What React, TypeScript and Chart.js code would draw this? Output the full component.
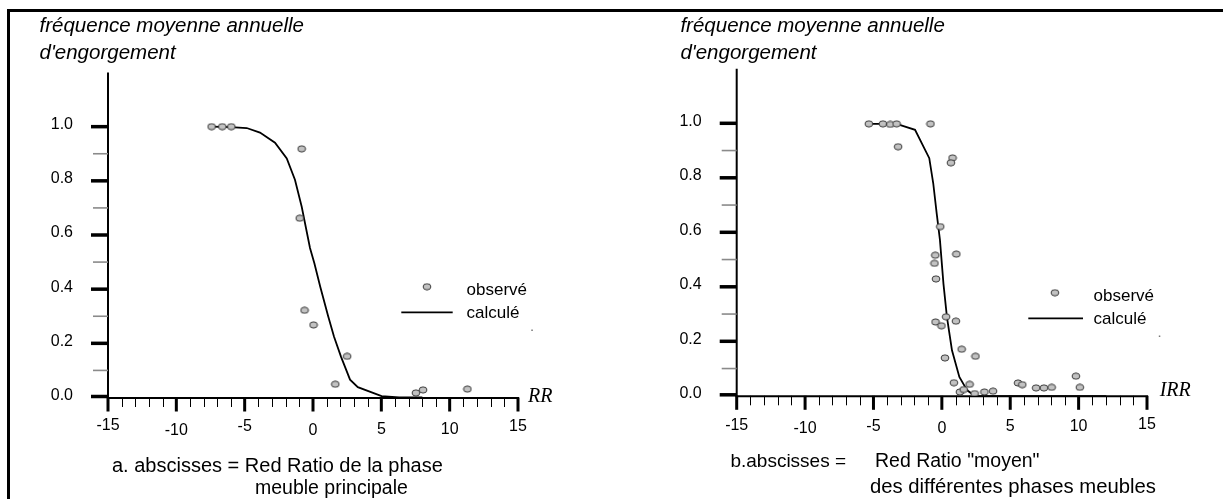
import React, { useEffect, useRef } from 'react';
import { Chart, registerables } from 'chart.js';

Chart.register(...registerables);

// ---------------- data ----------------
const xTickValues = [-15, -10, -5, 0, 5, 10, 15];
const xTickLabels = ['-15', '-10', '-5', '0', '5', '10', '15'];
const xMinorTickValues = [-14, -13, -12, -11, -9, -8, -7, -6, -4, -3, -2, -1, 1, 2, 3, 4, 6, 7, 8, 9, 11, 12, 13, 14];
const yTickValues = [0, 0.2, 0.4, 0.6, 0.8, 1.0];
const yTickLabels = ['0.0', '0.2', '0.4', '0.6', '0.8', '1.0'];
const yMinorTickValues = [0.1, 0.3, 0.5, 0.7, 0.9];

const titleLines = ['fréquence moyenne annuelle', "d'engorgement"];
const legendLabels = ['observé', 'calculé'];

// panel a : RR
const observedA_x = [-7.42, -6.64, -5.98, -0.83, -0.97, -0.62, 0.04, 2.5, 1.63, 7.53, 8.05, 11.3];
const observedA_y = [1.0, 1.0, 1.0, 0.918, 0.662, 0.322, 0.268, 0.152, 0.049, 0.017, 0.028, 0.031];
const calculatedA_x = [-7.42, -6.0, -4.85, -3.88, -2.78, -1.92, -1.32, -0.83, -0.22, 0.1, 0.53, 1.11, 1.54, 2.04, 2.71, 3.28, 5.02, 6.3, 8.0];
const calculatedA_y = [1.0, 0.998, 0.995, 0.978, 0.941, 0.883, 0.804, 0.705, 0.552, 0.496, 0.409, 0.3, 0.224, 0.152, 0.066, 0.038, 0.005, 0.0, 0.0];

// panel b : IRR
const observedB_x = [-5.34, -4.31, -3.77, -3.31, -3.2, -0.83, 0.78, 0.66, -0.12, -0.48, 1.06, -0.54, -0.43, -0.46, 0.31, -0.03, 1.03, 1.45, 0.23, 2.46, 0.88, 2.03, 1.32, 1.6, 2.4, 3.11, 3.74, 5.57, 5.88, 6.89, 7.46, 8.03, 9.8, 10.09];
const observedB_y = [0.998, 0.998, 0.996, 0.998, 0.914, 0.998, 0.873, 0.855, 0.621, 0.516, 0.52, 0.486, 0.429, 0.271, 0.29, 0.257, 0.274, 0.171, 0.139, 0.145, 0.048, 0.042, 0.014, 0.023, 0.008, 0.014, 0.017, 0.047, 0.041, 0.029, 0.029, 0.031, 0.072, 0.031];
const calculatedB_x = [-5.34, -4.31, -3.77, -3.31, -1.96, -0.92, -0.63, -0.38, -0.14, 0.12, 0.37, 0.74, 1.28, 1.85, 2.4, 12.0];
const calculatedB_y = [0.998, 0.998, 0.996, 0.998, 0.976, 0.872, 0.78, 0.67, 0.572, 0.41, 0.29, 0.167, 0.069, 0.02, 0.0, 0.0];

const X_MIN = -15;
const X_MAX = 15;
const Y_MIN = 0;
const Y_MAX = 1.2;

// ---------------- layout / style ----------------
const FONT = '"Liberation Sans", Arial, sans-serif';
const SERIF = '"Liberation Serif", "Times New Roman", serif';

type Caption = { text: string; x: number; y: number; size: number };

type PanelSpec = {
  left: number;
  width: number;
  padding: { left: number; right: number; top: number; bottom: number };
  obsX: number[];
  obsY: number[];
  calcX: number[];
  calcY: number[];
  axisName: string;
  axisNamePos: [number, number];
  titleX: number;
  titleYs: number[];
  captions: Caption[];
  xLabelY: number;
  xLabelDy: number[];
  legend: {
    markerX: number; markerY: number; textX: number; obsTextY: number;
    lineX1: number; lineX2: number; lineY: number; calcTextY: number;
    dotX: number; dotY: number;
  };
};

const panelA: PanelSpec = {
  left: 0,
  width: 611,
  padding: { left: 108, right: 93, top: 72.5, bottom: 101.5 },
  obsX: observedA_x,
  obsY: observedA_y,
  calcX: calculatedA_x,
  calcY: calculatedA_y,
  axisName: 'RR',
  axisNamePos: [528, 397],
  titleX: 39.5,
  titleYs: [26.7, 53.3],
  captions: [
    { text: 'a. abscisses = Red Ratio de la phase', x: 112, y: 466.7, size: 20 },
    { text: 'meuble principale', x: 255, y: 488.3, size: 19.5 },
  ],
  xLabelY: 428,
  xLabelDy: [-2, 3, -1, 3, 2, 2, -1],
  legend: {
    markerX: 427, markerY: 286.7, textX: 466.6, obsTextY: 290,
    lineX1: 401.3, lineX2: 452.7, lineY: 312.3, calcTextY: 313.3,
    dotX: 531.8, dotY: 330,
  },
};

const panelB: PanelSpec = {
  left: 611,
  width: 612,
  padding: { left: 125.7, right: 76, top: 68.8, bottom: 103.2 },
  obsX: observedB_x,
  obsY: observedB_y,
  calcX: calculatedB_x,
  calcY: calculatedB_y,
  axisName: 'IRR',
  axisNamePos: [548.7, 391],
  titleX: 69.4,
  titleYs: [26.7, 53.3],
  captions: [
    { text: 'b.abscisses =', x: 119.4, y: 461.7, size: 19 },
    { text: 'Red Ratio "moyen"', x: 264, y: 461.7, size: 19.5 },
    { text: 'des différentes phases meubles', x: 259, y: 487.3, size: 20.3 },
  ],
  xLabelY: 427,
  xLabelDy: [-1, 2, 0, 2, 0, 0, -2],
  legend: {
    markerX: 443.9, markerY: 292.7, textX: 482.6, obsTextY: 296,
    lineX1: 417.3, lineX2: 472, lineY: 318.3, calcTextY: 319.3,
    dotX: 548.3, dotY: 336,
  },
};

function makeMarker(): HTMLCanvasElement {
  const c = document.createElement('canvas');
  c.width = 10;
  c.height = 8;
  const g = c.getContext('2d')!;
  g.beginPath();
  g.ellipse(5, 4, 3.9, 3.1, 0, 0, Math.PI * 2);
  g.fillStyle = '#c2c2c2';
  g.fill();
  g.lineWidth = 1;
  g.strokeStyle = '#3a3a3a';
  g.stroke();
  return c;
}

function Panel({ spec }: { spec: PanelSpec }) {
  const ref = useRef<HTMLCanvasElement | null>(null);

  useEffect(() => {
    if (!ref.current) return;
    const marker = makeMarker();

    const decor = {
      id: 'decor',
      beforeDatasetsDraw(chart: any) {
        const ctx: CanvasRenderingContext2D = chart.ctx;
        const xs = chart.scales.x;
        const ys = chart.scales.y;
        const xa = xs.getPixelForValue(X_MIN);
        const xb = xs.getPixelForValue(X_MAX);
        const y0 = ys.getPixelForValue(0);
        const yTop = ys.getPixelForValue(Y_MAX);
        ctx.save();
        ctx.lineCap = 'butt';

        const seg = (x1: number, y1: number, x2: number, y2: number, w: number, col: string) => {
          ctx.beginPath();
          ctx.moveTo(x1, y1);
          ctx.lineTo(x2, y2);
          ctx.lineWidth = w;
          ctx.strokeStyle = col;
          ctx.stroke();
        };
        const text = (s: string, x: number, y: number, font: string, align: CanvasTextAlign = 'left') => {
          ctx.font = font;
          ctx.textAlign = align;
          ctx.textBaseline = 'middle';
          ctx.fillStyle = '#000';
          ctx.fillText(s, x, y);
        };

        // axes
        seg(xa, yTop, xa, y0 + 1, 2, '#000');
        seg(xa - 1, y0 + 0.5, xb + 1, y0 + 0.5, 2, '#000');

        // y ticks
        yMinorTickValues.forEach((v) => {
          const y = ys.getPixelForValue(v);
          seg(xa - 15, y, xa, y, 1.6, '#8a8a8a');
        });
        yTickValues.forEach((v, i) => {
          const y = ys.getPixelForValue(v);
          const yy = y - (v === 0 ? 1 : 0);
          seg(xa - 17, yy, xa, yy, 3.5, '#000');
          text(yTickLabels[i], xa - 35, y - 2, `16px ${FONT}`, 'right');
        });

        // x ticks
        xMinorTickValues.forEach((v) => {
          const x = Math.round(xs.getPixelForValue(v)) + 0.5;
          seg(x, y0, x, y0 + 9.5, 1, '#000');
        });
        xTickValues.forEach((v, i) => {
          const x = xs.getPixelForValue(v);
          seg(x, y0, x, y0 + 14, 3, '#000');
          text(xTickLabels[i], x, spec.xLabelY + spec.xLabelDy[i], `16px ${FONT}`, 'center');
        });

        // axis name
        text(spec.axisName, spec.axisNamePos[0], spec.axisNamePos[1], `italic 20px ${SERIF}`);

        // y title
        titleLines.forEach((t, i) => text(t, spec.titleX, spec.titleYs[i], `italic 20.5px ${FONT}`));

        // captions
        spec.captions.forEach((c) => text(c.text, c.x, c.y, `${c.size}px ${FONT}`));

        // legend
        const L = spec.legend;
        ctx.drawImage(marker, L.markerX - marker.width / 2, L.markerY - marker.height / 2);
        text(legendLabels[0], L.textX, L.obsTextY, `17px ${FONT}`);
        seg(L.lineX1, L.lineY, L.lineX2, L.lineY, 1.8, '#000');
        text(legendLabels[1], L.textX, L.calcTextY, `17px ${FONT}`);
        ctx.fillStyle = '#777';
        ctx.fillRect(L.dotX - 0.5, L.dotY - 0.5, 1.5, 1.5);

        ctx.restore();
      },
    };

    const chart = new Chart(ref.current, {
      type: 'scatter',
      data: {
        datasets: [
          {
            label: legendLabels[0],
            data: spec.obsX.map((x, i) => ({ x, y: spec.obsY[i] })),
            pointStyle: marker as any,
            pointRadius: 4,
            showLine: false,
          },
          {
            label: legendLabels[1],
            data: spec.calcX.map((x, i) => ({ x, y: spec.calcY[i] })),
            showLine: true,
            pointRadius: 0,
            borderColor: '#000',
            borderWidth: 1.8,
            tension: 0,
            fill: false,
          } as any,
        ],
      },
      options: {
        animation: false,
        responsive: false,
        devicePixelRatio: 1,
        events: [],
        layout: { padding: spec.padding, autoPadding: false } as any,
        scales: {
          x: { type: 'linear', min: X_MIN, max: X_MAX, display: false },
          y: { type: 'linear', min: Y_MIN, max: Y_MAX, display: false },
        },
        plugins: {
          legend: { display: false },
          tooltip: { enabled: false },
        },
      },
      plugins: [decor],
    });
    return () => chart.destroy();
  }, [spec]);

  return (
    <canvas
      ref={ref}
      width={spec.width}
      height={499}
      style={{ position: 'absolute', left: spec.left, top: 0, width: spec.width, height: 499, display: 'block' }}
    />
  );
}

export default function App() {
  return (
    <div style={{ position: 'absolute', left: 0, top: 0, width: 1223, height: 499, background: '#fff', overflow: 'hidden' }}>
      <div
        style={{
          position: 'absolute',
          left: 7,
          top: 9,
          width: 1216,
          height: 490,
          borderTop: '3px solid #000',
          borderLeft: '3px solid #000',
          boxSizing: 'border-box',
        }}
      />
      <Panel spec={panelA} />
      <Panel spec={panelB} />
    </div>
  );
}
